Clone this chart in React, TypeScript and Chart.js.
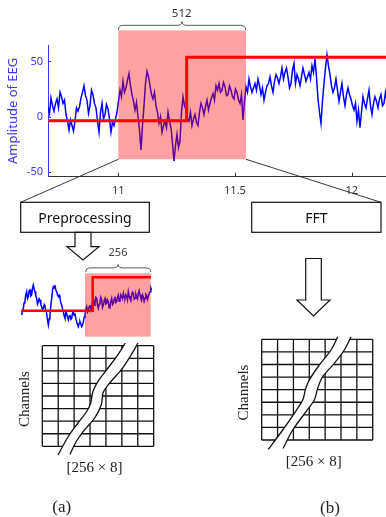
import React, { useEffect, useRef } from "react";
import { Chart, registerables } from "chart.js";

Chart.register(...registerables);
Chart.defaults.font.family = "'Noto Sans', 'DejaVu Sans', sans-serif";

// ---------- top EEG chart data ----------
const X_MIN = 10.6988;
const X_MAX = 12.147;
const Y_MIN = -54.25;
const Y_MAX = 64.8;
const X_TICK_STEP = 0.5;
const Y_TICK_STEP = 50;
const SAMPLE_START = 10.6988; // time of first plotted sample (s)
const SAMPLE_STEP = 0.0064265; // time between plotted samples (s)
const EEG_VALUES = [
  9, 3, 17, 10, 5, 12, 16, 8, 22, 18, 12, 15, 2, -4, -12, -3, -8, -13, -4, 8,
  5, 9, 17, 22, 28, 19, 15, 3, 10, 24, 20, 12, 8, -4, -14, 4, 12, -2, 2, 11,
  7, -2, -14, -5, -8, -2, 4, 14, 24, 18, 32, 22, 26, 33, 39, 28, 20, 14, 6, 13,
  0, -12, -30, -8, 10, 30, 41, 36, 28, 20, 16, 22, 10, 4, -6, 0, -14, -8, -4, -10,
  4, -4, -10, -24, -40, -26, -16, -28, -22, 4, 18, 10, 6, -2, -4, 4, -8, -2, 2, -5,
  -8, 4, 12, 8, 2, 9, 15, 6, 12, 17, 21, 15, 28, 24, 30, 22, 24, 31, 27, 19,
  20, 28, 24, 18, 16, 25, 22, 15, 12, 20, -3, 14, 27, 22, 34, 27, 22, 26, 30, 24,
  34, 28, 20, 26, 15, 22, 28, 30, 36, 28, 22, 32, 38, 35, 30, 36, 44, 34, 40, 44,
  36, 26, 30, 42, 48, 30, 38, 34, 28, 36, 44, 38, 32, 36, 40, 34, 46, 40, 52, 36,
  16, 4, -6, 14, 30, 44, 56, 46, 38, 28, 22, 26, 34, 24, 14, 22, 30, 18, 10, 20,
  26, 20, 16, 10, 6, 12, -4, 6, -10, 4, 18, 12, 8, 16, 24, 10, 2, 12, 18, 14,
  8, 16, 20, 10, 12, 22, 14,
];
const STIM_TIMES = [X_MIN, 11.293, 11.293, X_MAX];
const STIM_LEVELS = [-3.6, -3.6, 53.7, 53.7];
const WINDOW_512_X = [11.0, 11.547];
const WINDOW_512_Y = [-38.5, 78];

// ---------- preprocessed segment data ----------
const SEG_X_MIN = -0.4;
const SEG_X_MAX = 78.2;
const SEG_Y_MIN = -51.5;
const SEG_Y_MAX = 68.5;
const SEG_SAMPLE_STEP = 0.5;
const SEG_VALUES = [
  -6.5, 0, 3.5, 12, 16, 24, 28.5, 18, 21, 30, 31, 22, 23.5, 34, 38.5, 32, 28.5, 22, 18.5, 10,
  13.5, 18, 16, 9, 6, 1, 3.5, 9, 6, 0, -4, -14, -21.5, -12, -6.5, 8, 18.5, 30, 36, 34,
  38.5, 31, 28.5, 24, 21, 23, 18.5, 12, 8.5, 3, -1.5, -8, -11.5, -2, -4, -10, -14, -8, -6.5, -13,
  -11.5, -4, -1.5, -7, -4, -12, -16.5, -21, -24, -19, -16.5, -20, -24, -22, -16.5, -10, -6.5, 2, 6, -2,
  1, 6, 8.5, 1, 6, 12, 18.5, 8, 11, 20, 18.5, 8, 3.5, 10, 13.5, 20, 16, 5, 8.5, 15,
  18.5, 10, 11, 16, 13.5, 4, 6, 14, 18.5, 9, 11, 17, 21, 12, 13.5, 20, 23.5, 14, 16, 24,
  21, 18, 26, 20, 18.5, 24, 21, 16, 28.5, 22, 18.5, 15, 23.5, 28, 26, 17, 18.5, 25, 21, 18,
  26, 30, 23.5, 19, 16, 24, 21, 14, 18.5, 25, 23.5, 17, 21, 26, 28.5, 34, 31,
];
const SEG_STIM_X = [-0.3, 42.6, 42.6, 77.6];
const SEG_STIM_Y = [0, 0, 50, 50];
const SEG_WINDOW_X = [38, 77.4];
const SEG_WINDOW_Y = [-39, 56];

const BLUE = "#0000ff";
const AXIS_BLUE = "#3a3af5";
const RED = "#ff0000";
const SHADE = "rgba(255,0,0,0.37)";

function shadePlugin(xr: number[], yr: number[]) {
  return {
    id: "shade",
    afterDatasetsDraw(chart: any) {
      const { ctx, scales } = chart;
      const x0 = scales.x.getPixelForValue(xr[0]);
      const x1 = scales.x.getPixelForValue(xr[1]);
      const y0 = scales.y.getPixelForValue(yr[1]);
      const y1 = scales.y.getPixelForValue(yr[0]);
      ctx.save();
      ctx.fillStyle = SHADE;
      ctx.fillRect(x0, y0, x1 - x0, y1 - y0);
      ctx.restore();
    },
  };
}

const inwardTicks = {
  id: "inwardTicks",
  afterDraw(chart: any) {
    const { ctx, scales, chartArea } = chart;
    ctx.save();
    ctx.lineWidth = 1;
    ctx.strokeStyle = "#333";
    for (const t of scales.x.ticks) {
      const px = Math.round(scales.x.getPixelForValue(t.value)) + 0.5;
      ctx.beginPath();
      ctx.moveTo(px, chartArea.bottom);
      ctx.lineTo(px, chartArea.bottom - 4);
      ctx.stroke();
    }
    ctx.strokeStyle = AXIS_BLUE;
    for (const t of scales.y.ticks) {
      const py = Math.round(scales.y.getPixelForValue(t.value)) + 0.5;
      ctx.beginPath();
      ctx.moveTo(chartArea.left, py);
      ctx.lineTo(chartArea.left + 3, py);
      ctx.stroke();
    }
    ctx.restore();
  },
};

function topConfig(): any {
  const eeg = EEG_VALUES.map((v, i) => ({ x: SAMPLE_START + i * SAMPLE_STEP, y: v }));
  const stim = STIM_TIMES.map((t, i) => ({ x: t, y: STIM_LEVELS[i] }));
  return {
    type: "line",
    data: {
      datasets: [
        { data: stim, borderColor: RED, borderWidth: 3, pointRadius: 0, tension: 0 },
        { data: eeg, borderColor: BLUE, borderWidth: 1.5, pointRadius: 0, tension: 0 },
      ],
    },
    options: {
      animation: false,
      responsive: false,
      devicePixelRatio: 1,
      layout: { padding: { top: 45, left: 0, right: 0, bottom: 0 } },
      plugins: { legend: { display: false }, tooltip: { enabled: false } },
      scales: {
        x: {
          type: "linear",
          min: X_MIN,
          max: X_MAX,
          afterFit: (s: any) => { s.height = 23.3; },
          grid: { display: false, drawTicks: false },
          border: { display: true, color: "#333", width: 1 },
          ticks: {
            stepSize: X_TICK_STEP, includeBounds: false, color: "#333", font: { size: 11 }, padding: 8, maxRotation: 0,
            callback: (v: any) => String(Number(v)),
          },
        },
        y: {
          type: "linear",
          min: Y_MIN,
          max: Y_MAX,
          afterFit: (s: any) => { s.width = 48; },
          grid: { display: false, drawTicks: false },
          border: { display: true, color: AXIS_BLUE, width: 1 },
          ticks: { stepSize: Y_TICK_STEP, includeBounds: false, color: AXIS_BLUE, font: { size: 11 }, padding: 5 },
          title: { display: true, text: "Amplitude of EEG", color: AXIS_BLUE, font: { size: 13 }, padding: { top: 5, bottom: 0 } },
        },
      },
    },
    plugins: [shadePlugin(WINDOW_512_X, WINDOW_512_Y), inwardTicks],
  };
}

function segConfig(): any {
  const seg = SEG_VALUES.map((v, i) => ({ x: i * SEG_SAMPLE_STEP, y: v }));
  const stim = SEG_STIM_X.map((x, i) => ({ x, y: SEG_STIM_Y[i] }));
  return {
    type: "line",
    data: {
      datasets: [
        { data: stim, borderColor: RED, borderWidth: 2.5, pointRadius: 0, tension: 0 },
        { data: seg, borderColor: BLUE, borderWidth: 1.5, pointRadius: 0, tension: 0 },
      ],
    },
    options: {
      animation: false,
      responsive: false,
      devicePixelRatio: 1,
      layout: { padding: 0 },
      plugins: { legend: { display: false }, tooltip: { enabled: false } },
      scales: {
        x: { type: "linear", display: false, min: SEG_X_MIN, max: SEG_X_MAX },
        y: { type: "linear", display: false, min: SEG_Y_MIN, max: SEG_Y_MAX },
      },
    },
    plugins: [shadePlugin(SEG_WINDOW_X, SEG_WINDOW_Y)],
  };
}

// ---------- diagram helpers ----------
type P = [number, number];
function segs(pts: P[]): string {
  let d = "";
  for (let i = 0; i < pts.length - 1; i++) {
    const p0 = pts[i - 1] || pts[i];
    const p1 = pts[i];
    const p2 = pts[i + 1];
    const p3 = pts[i + 2] || p2;
    const c1 = [p1[0] + (p2[0] - p0[0]) / 6, p1[1] + (p2[1] - p0[1]) / 6];
    const c2 = [p2[0] - (p3[0] - p1[0]) / 6, p2[1] - (p3[1] - p1[1]) / 6];
    d += ` C${c1[0]},${c1[1]} ${c2[0]},${c2[1]} ${p2[0]},${p2[1]}`;
  }
  return d;
}
function smooth(pts: P[]): string {
  return `M${pts[0][0]},${pts[0][1]}` + segs(pts);
}

function brace(x1: number, x2: number, yb: number, yt: number): string {
  const xc = (x1 + x2) / 2;
  const ym = yb - (yb - yt) * 0.55;
  return `M${x1},${yb} Q${x1},${ym} ${x1 + 5},${ym} L${xc - 5},${ym} Q${xc},${ym} ${xc},${yt} Q${xc},${ym} ${xc + 5},${ym} L${x2 - 5},${ym} Q${x2},${ym} ${x2},${yb}`;
}

function Grid({ x0, y0, cw, rh, left, right }: { x0: number; y0: number; cw: number; rh: number; left: P[]; right: P[] }) {
  const lines = [];
  for (let c = 0; c <= 7; c++) {
    lines.push(<line key={"v" + c} x1={x0 + c * cw} y1={y0} x2={x0 + c * cw} y2={y0 + 8 * rh} stroke="#111" strokeWidth={1.3} />);
  }
  for (let r = 0; r <= 8; r++) {
    lines.push(<line key={"h" + r} x1={x0} y1={y0 + r * rh} x2={x0 + 7 * cw} y2={y0 + r * rh} stroke="#111" strokeWidth={1.3} />);
  }
  const rrev = [...right].reverse();
  const fill = smooth(left) + ` L${rrev[0][0]},${rrev[0][1]}` + segs(rrev) + " Z";
  return (
    <g>
      {lines}
      <path d={fill} fill="#fff" stroke="none" />
      <path d={smooth(left)} fill="none" stroke="#111" strokeWidth={1.3} />
      <path d={smooth(right)} fill="none" stroke="#111" strokeWidth={1.3} />
    </g>
  );
}

const BAND_A_L: P[] = [[125.3, 343], [118, 354.7], [108, 368], [98, 381.3], [93, 391.3], [90.7, 403], [87, 411], [78, 423], [68, 437], [58, 455]];
const BAND_A_R: P[] = [[138, 343], [131.3, 354.7], [121.3, 369.7], [109.7, 383], [103, 393], [101.3, 404.7], [94.7, 418], [84.7, 429.7], [76, 442], [70, 454.5]];
const BAND_B_L: P[] = [[337.7, 336.7], [331, 350], [319.3, 365], [309.3, 380], [305.3, 390], [302.7, 400], [294.3, 413.3], [282.7, 430], [268.3, 449.3]];
const BAND_B_R: P[] = [[351, 336.7], [344.3, 350], [334.3, 363.3], [322.7, 376.7], [317.7, 388.3], [314.3, 400], [306, 411.7], [292.7, 430], [283, 448.5]];

const SANS = "'Noto Sans', 'DejaVu Sans', sans-serif";
const SERIF = "'Liberation Serif', 'DejaVu Serif', serif";

export default function App() {
  const topRef = useRef<HTMLCanvasElement>(null);
  const segRef = useRef<HTMLCanvasElement>(null);

  useEffect(() => {
    const top = new Chart(topRef.current as HTMLCanvasElement, topConfig());
    const seg = new Chart(segRef.current as HTMLCanvasElement, segConfig());
    return () => {
      top.destroy();
      seg.destroy();
    };
  }, []);

  return (
    <div style={{ position: "absolute", left: 0, top: 0, width: 386, height: 517, background: "#fff", overflow: "hidden" }}>
      <canvas ref={topRef} width={386} height={200} style={{ position: "absolute", left: 0, top: 0, width: 386, height: 200 }} />
      <canvas ref={segRef} width={131} height={80} style={{ position: "absolute", left: 21, top: 265, width: 131, height: 80 }} />
      <svg width={386} height={517} style={{ position: "absolute", left: 0, top: 0, pointerEvents: "none" }}>
        {/* 512 brace */}
        <path d={brace(118.3, 245.7, 30, 21.5)} fill="none" stroke="#444" strokeWidth={0.9} />
        <text x={181.7} y={12} fontFamily={SANS} fontSize={11.5} fill="#333" textAnchor="middle" dominantBaseline="central">512</text>
        {/* connectors */}
        <line x1={118.3} y1={159.3} x2={20.7} y2={202.3} stroke="#222" strokeWidth={0.9} />
        <line x1={246} y1={159.3} x2={381} y2={202.3} stroke="#222" strokeWidth={0.9} />
        {/* boxes */}
        <rect x={20.7} y={202.3} width={128.6} height={30} fill="#fff" stroke="#111" strokeWidth={1.2} />
        <text x={85} y={217.5} fontFamily={SANS} fontSize={14} fill="#111" textAnchor="middle" dominantBaseline="central">Preprocessing</text>
        <rect x={251.7} y={202.3} width={129.3} height={30} fill="#fff" stroke="#111" strokeWidth={1.2} />
        <text x={316.3} y={217.5} fontFamily={SANS} fontSize={14} fill="#111" textAnchor="middle" dominantBaseline="central">FFT</text>
        {/* arrows */}
        <polygon points="75,232.3 91,232.3 91,246.7 99,246.7 83,260 67,246.7 75,246.7" fill="#fff" stroke="#111" strokeWidth={1.2} />
        <polygon points="305.7,258.5 321.3,258.5 321.3,300 330,300 313.5,316 297,300 305.7,300" fill="#fff" stroke="#111" strokeWidth={1.2} />
        {/* 256 brace */}
        <path d={brace(85.7, 150.7, 272, 264.5)} fill="none" stroke="#444" strokeWidth={0.9} />
        <text x={118} y={251.5} fontFamily={SANS} fontSize={11} fill="#444" textAnchor="middle" dominantBaseline="central">256</text>
        {/* grids */}
        <Grid x0={42.3} y0={345.7} cw={15.91} rh={12.58} left={BAND_A_L} right={BAND_A_R} />
        <Grid x0={261.7} y0={339.3} cw={15.86} rh={12.59} left={BAND_B_L} right={BAND_B_R} />
        <text transform="translate(24,399) rotate(-90)" fontFamily={SERIF} fontSize={15} fill="#222" textAnchor="middle" dominantBaseline="central">Channels</text>
        <text transform="translate(243,392.5) rotate(-90)" fontFamily={SERIF} fontSize={15} fill="#222" textAnchor="middle" dominantBaseline="central">Channels</text>
        <text x={94.5} y={466.7} fontFamily={SERIF} fontSize={15} fill="#222" textAnchor="middle" dominantBaseline="central">[256 × 8]</text>
        <text x={313.7} y={460.5} fontFamily={SERIF} fontSize={15} fill="#222" textAnchor="middle" dominantBaseline="central">[256 × 8]</text>
        <text x={61.7} y={506.5} fontFamily={SERIF} fontSize={17} fill="#222" textAnchor="middle" dominantBaseline="central">(a)</text>
        <text x={330} y={507.5} fontFamily={SERIF} fontSize={17} fill="#222" textAnchor="middle" dominantBaseline="central">(b)</text>
      </svg>
    </div>
  );
}
